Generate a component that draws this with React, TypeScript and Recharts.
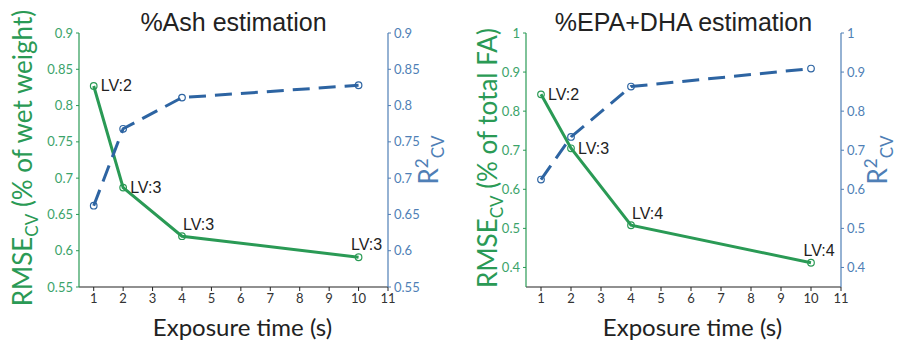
import React from 'react';
import { ComposedChart, Line, XAxis, YAxis, LabelList, Label, Customized } from 'recharts';

// ---- data ----
const exposureTimes = [1, 2, 4, 10];
const xTicks = [1, 2, 3, 4, 5, 6, 7, 8, 9, 10, 11];

const ashTitle = '%Ash estimation';
const ashRmse = [0.827, 0.687, 0.62, 0.591];
const ashR2 = [0.662, 0.768, 0.811, 0.828];
const ashLV = ['LV:2', 'LV:3', 'LV:3', 'LV:3'];
const ashTicks = [0.55, 0.6, 0.65, 0.7, 0.75, 0.8, 0.85, 0.9];
const ashUnit = '(% of wet weight)';

const epaTitle = '%EPA+DHA estimation';
const epaRmse = [0.843, 0.705, 0.508, 0.412];
const epaR2 = [0.625, 0.734, 0.863, 0.909];
const epaLV = ['LV:2', 'LV:3', 'LV:4', 'LV:4'];
const epaTicks = [0.4, 0.5, 0.6, 0.7, 0.8, 0.9, 1];
const epaUnit = '(% of total FA)';

const xLabel = 'Exposure time (s)';

// ---- styles ----
const GREEN = '#2a9a55';
const GREEN_TXT = '#3ba36a';
const BLUE = '#2d64a2';
const BLUE_AX = '#4f7fb6';
const DARK = '#222222';
const AX_FONT = 'Lato, "Open Sans", sans-serif';
const TITLE_FONT = '"Liberation Sans", Arial, sans-serif';

function buildRows(rmse: number[], r2: number[], lv: string[]) {
  return exposureTimes.map((t, i) => ({ t, rmse: rmse[i], r2: r2[i], lv: lv[i] }));
}

const LvLabel = (props: any) => {
  const { x, y, value, index } = props;
  let tx = x + 7;
  let ty = y;
  let anchor: 'start' | 'middle' = 'start';
  let base = 'central';
  if (index === 2) {
    tx = x + 1;
    ty = y - 6;
    base = 'auto';
  } else if (index === 3) {
    tx = x + 8;
    ty = y - 7;
    anchor = 'middle';
    base = 'auto';
  }
  return (
    <text x={tx} y={ty} textAnchor={anchor} dominantBaseline={base as any} fill={DARK} fontSize={16} fontFamily={TITLE_FONT}>
      {value}
    </text>
  );
};

const Dot = (color: string) => (p: any) => (
  <circle cx={p.cx} cy={p.cy} r={3.3} fill="none" stroke={color} strokeWidth={1.2} />
);

function Panel(props: {
  title: string;
  rows: any[];
  domain: [number, number];
  ticks: number[];
  unit: string;
  width: number;
  leftW: number;
  rightW: number;
  leftDx: number;
  rightDx: number;
}) {
  const { title, rows, domain, ticks, unit, width, leftW, rightW, leftDx, rightDx } = props;
  const top = 33;
  const height = 340;
  const xH = 53;
  return (
    <ComposedChart width={width} height={height} data={rows} margin={{ top, right: 0, bottom: 0, left: 0 }}>
      <XAxis
        dataKey="t"
        type="number"
        domain={[0.5, 11]}
        ticks={xTicks}
        allowDataOverflow
        height={xH}
        tickSize={4}
        tickMargin={3}
        axisLine={{ stroke: DARK, strokeWidth: 1.2 }}
        tickLine={{ stroke: DARK }}
        tick={{ fill: '#333', fontSize: 13, fontFamily: AX_FONT }}
      >
        <Label
          content={(lp: any) => {
            const vb = lp.viewBox;
            return (
              <text x={vb.x + vb.width / 2 + 9} y={336} textAnchor="middle" fill={DARK} fontSize={24} fontFamily={AX_FONT}>
                {xLabel}
              </text>
            );
          }}
        />
      </XAxis>
      <YAxis
        yAxisId="l"
        orientation="left"
        width={leftW}
        domain={domain}
        ticks={ticks}
        allowDataOverflow
        tickSize={3}
        tickMargin={3}
        axisLine={{ stroke: GREEN, strokeWidth: 1.2 }}
        tickLine={{ stroke: GREEN }}
        tick={{ fill: GREEN_TXT, fontSize: 13, fontFamily: AX_FONT }}
      >
        <Label
          content={(lp: any) => {
            const vb = lp.viewBox;
            const x = vb.x + leftDx;
            const y = vb.y + vb.height / 2 - 2;
            return (
              <text x={x} y={y} transform={`rotate(-90 ${x} ${y})`} textAnchor="middle" fill={GREEN} fontSize={26} fontFamily={AX_FONT}>
                RMSE
                <tspan fontSize={17} dy={6}>CV</tspan>
                <tspan dy={-6}>{' ' + unit}</tspan>
              </text>
            );
          }}
        />
      </YAxis>
      <YAxis
        yAxisId="r"
        orientation="right"
        width={rightW}
        domain={domain}
        ticks={ticks}
        allowDataOverflow
        tickSize={3}
        tickMargin={3}
        axisLine={{ stroke: BLUE_AX, strokeWidth: 1.2 }}
        tickLine={{ stroke: BLUE_AX }}
        tick={{ fill: BLUE_AX, fontSize: 13, fontFamily: AX_FONT }}
      >
        <Label
          content={(lp: any) => {
            const vb = lp.viewBox;
            const x = vb.x + rightDx;
            const y = vb.y + vb.height / 2;
            return (
              <text x={x} y={y} transform={`rotate(-90 ${x} ${y})`} textAnchor="middle" fill={BLUE_AX} fontSize={26} fontFamily={AX_FONT}>
                R
                <tspan fontSize={17} dy={-10}>2</tspan>
                <tspan fontSize={17} dy={16}>CV</tspan>
              </text>
            );
          }}
        />
      </YAxis>
      <Line
        yAxisId="l"
        dataKey="rmse"
        stroke={GREEN}
        strokeWidth={3}
        dot={Dot(GREEN)}
        activeDot={false}
        isAnimationActive={false}
      >
        <LabelList dataKey="lv" content={LvLabel} />
      </Line>
      <Line
        yAxisId="r"
        dataKey="r2"
        stroke={BLUE}
        strokeWidth={3}
        strokeDasharray="17 9"
        dot={Dot(BLUE)}
        activeDot={false}
        isAnimationActive={false}
      />
      <Customized
        component={() => (
          <text
            x={leftW + (width - leftW - rightW) / 2}
            y={31}
            textAnchor="middle"
            fill={DARK}
            fontSize={25}
            fontFamily={TITLE_FONT}
          >
            {title}
          </text>
        )}
      />
    </ComposedChart>
  );
}

export default function App() {
  return (
    <div style={{ position: 'absolute', left: 0, top: 0, width: 899, height: 340, display: 'flex', background: '#fff' }}>
      <Panel
        title={ashTitle}
        rows={buildRows(ashRmse, ashR2, ashLV)}
        domain={[0.55, 0.9]}
        ticks={ashTicks}
        unit={ashUnit}
        width={450}
        leftW={79}
        rightW={62}
        leftDx={32}
        rightDx={50}
      />
      <Panel
        title={epaTitle}
        rows={buildRows(epaRmse, epaR2, epaLV)}
        domain={[0.35, 1]}
        ticks={epaTicks}
        unit={epaUnit}
        width={449}
        leftW={76}
        rightW={58}
        leftDx={47}
        rightDx={46}
      />
    </div>
  );
}
